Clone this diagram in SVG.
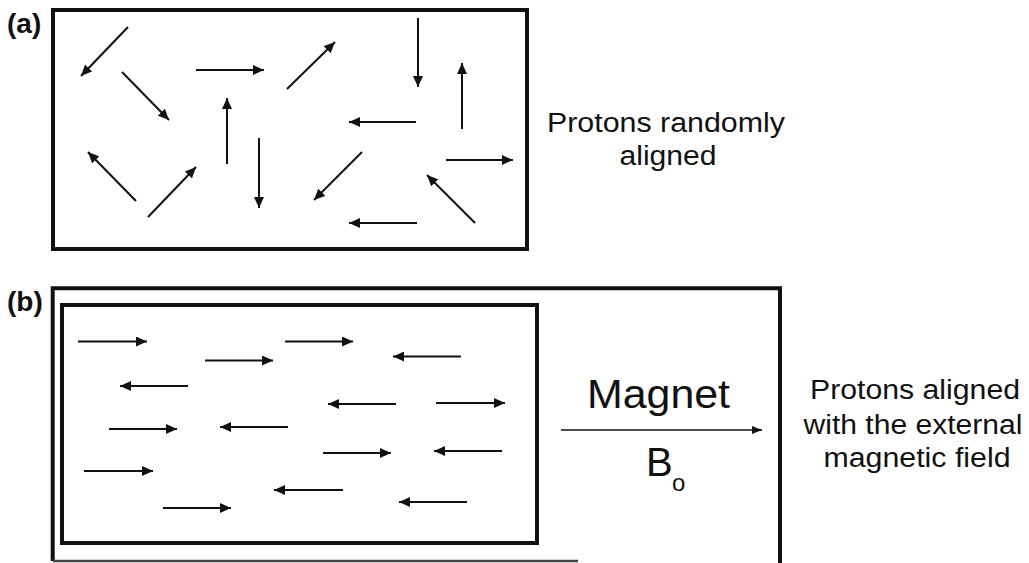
<svg xmlns="http://www.w3.org/2000/svg" width="1029" height="563" viewBox="0 0 1029 563">
  <defs>
    <style>
      .box { fill: none; stroke: #111; stroke-width: 4; }
      .spin { stroke: #111; stroke-width: 2; fill: none; marker-end: url(#head); }
      .lbl { font-family: "Liberation Sans", Arial, sans-serif; font-weight: bold; font-size: 28px; fill: #111; }
      .txt { font-family: "Liberation Sans", Arial, sans-serif; font-size: 27px; fill: #111; text-anchor: middle; }
      .big { font-family: "Liberation Sans", Arial, sans-serif; font-size: 40px; fill: #111; }
    </style>
    <marker id="head" markerUnits="userSpaceOnUse" markerWidth="11" markerHeight="10" refX="11" refY="5" orient="auto">
      <path d="M0,0 L11,5 L0,10 Z" fill="#111"/>
    </marker>
    <marker id="headSmall" markerUnits="userSpaceOnUse" markerWidth="10" markerHeight="8" refX="10" refY="4" orient="auto">
      <path d="M0,0 L10,4 L0,8 Z" fill="#111"/>
    </marker>
  </defs>
  <rect width="1029" height="563" fill="#fff"/>

  <g id="panel-a">
    <text class="lbl" x="7" y="33">(a)</text>
    <rect id="box-a" class="box" x="53" y="10" width="474" height="239"/>
    <g id="spins-a">
      <line class="spin" x1="128" y1="27" x2="81" y2="76"/>
      <line class="spin" x1="122" y1="72" x2="169" y2="120"/>
      <line class="spin" x1="196" y1="70" x2="264" y2="70"/>
      <line class="spin" x1="287" y1="89" x2="335" y2="42"/>
      <line class="spin" x1="418" y1="18" x2="418" y2="87"/>
      <line class="spin" x1="462" y1="129" x2="462" y2="63"/>
      <line class="spin" x1="416" y1="122" x2="349" y2="122"/>
      <line class="spin" x1="227" y1="164" x2="227" y2="98"/>
      <line class="spin" x1="259" y1="138" x2="259" y2="208"/>
      <line class="spin" x1="136" y1="201" x2="88" y2="152"/>
      <line class="spin" x1="148" y1="217" x2="196" y2="167"/>
      <line class="spin" x1="362" y1="152" x2="314" y2="200"/>
      <line class="spin" x1="446" y1="160" x2="513" y2="160"/>
      <line class="spin" x1="475" y1="223" x2="427" y2="175"/>
      <line class="spin" x1="417" y1="223" x2="349" y2="223"/>
    </g>
    <g id="caption-a">
      <text class="txt" x="666" y="132" textLength="238" lengthAdjust="spacingAndGlyphs">Protons randomly</text>
      <text class="txt" x="668" y="165" textLength="97" lengthAdjust="spacingAndGlyphs">aligned</text>
    </g>
  </g>

  <g id="panel-b">
    <text class="lbl" x="7" y="311">(b)</text>
    <g id="magnet-box">
      <path class="box" d="M52.7,561 V288.3 H780 V563"/>
      <line x1="52.7" y1="561" x2="578" y2="561" stroke="#444" stroke-width="2.5"/>
    </g>
    <rect id="box-b" class="box" x="62" y="305" width="475" height="238"/>
    <g id="spins-b">
      <line class="spin" x1="78" y1="341.5" x2="147" y2="341.5"/>
      <line class="spin" x1="205" y1="360.5" x2="273" y2="360.5"/>
      <line class="spin" x1="285" y1="341.5" x2="353" y2="341.5"/>
      <line class="spin" x1="461" y1="356.5" x2="393" y2="356.5"/>
      <line class="spin" x1="188" y1="386" x2="120" y2="386"/>
      <line class="spin" x1="396" y1="404" x2="328" y2="404"/>
      <line class="spin" x1="436" y1="403" x2="505" y2="403"/>
      <line class="spin" x1="109" y1="429" x2="177" y2="429"/>
      <line class="spin" x1="288" y1="427" x2="220" y2="427"/>
      <line class="spin" x1="323" y1="453" x2="391" y2="453"/>
      <line class="spin" x1="502" y1="451" x2="434" y2="451"/>
      <line class="spin" x1="84" y1="471" x2="153" y2="471"/>
      <line class="spin" x1="343" y1="490" x2="274" y2="490"/>
      <line class="spin" x1="163" y1="508" x2="231" y2="508"/>
      <line class="spin" x1="467" y1="502" x2="399" y2="502"/>
    </g>
    <g id="field">
      <text class="big" x="587" y="408" textLength="143" lengthAdjust="spacingAndGlyphs">Magnet</text>
      <line x1="561" y1="430" x2="762" y2="430" stroke="#111" stroke-width="1.6" marker-end="url(#headSmall)"/>
      <text class="big" x="646" y="476">B</text>
      <text class="big" x="672" y="491" style="font-size:24px">o</text>
    </g>
    <g id="caption-b">
      <text class="txt" x="915" y="399" textLength="210" lengthAdjust="spacingAndGlyphs">Protons aligned</text>
      <text class="txt" x="913" y="434" textLength="219" lengthAdjust="spacingAndGlyphs">with the external</text>
      <text class="txt" x="917" y="467" textLength="187" lengthAdjust="spacingAndGlyphs">magnetic field</text>
    </g>
  </g>
</svg>
